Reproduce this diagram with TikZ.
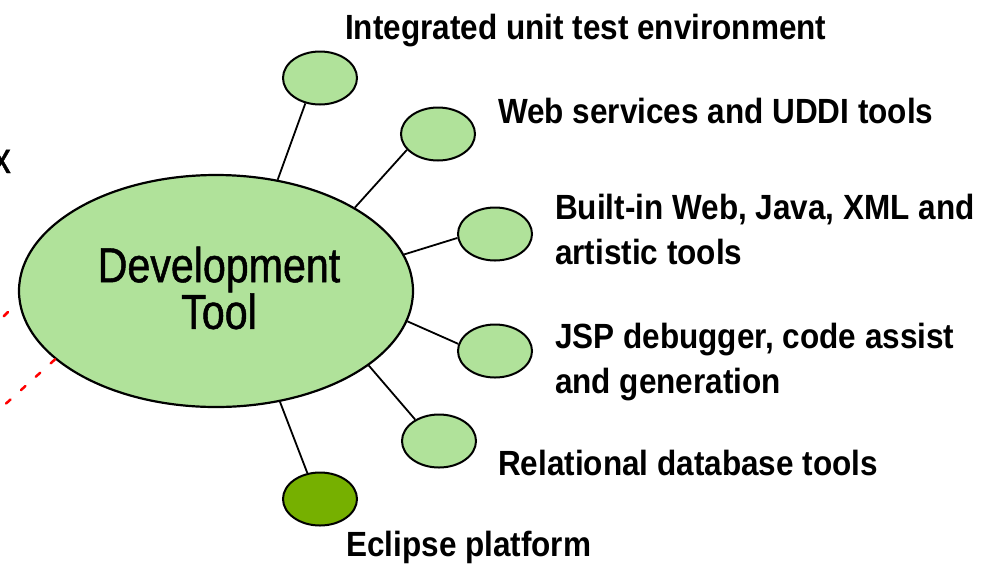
\documentclass[tikz,border=0pt]{standalone}
\usepackage{fontspec}
\setmainfont{Liberation Sans}
\newfontfamily\lblfont{Liberation Sans}[FakeStretch=0.9]
\newfontfamily\devfont{Liberation Sans}[FakeStretch=0.84, FakeBold=1]
\usetikzlibrary{shapes.geometric}
\definecolor{lgreen}{HTML}{B0E29A}
\definecolor{dgreen}{HTML}{76B000}
\tikzset{
  bigell/.style={ellipse, draw=black, line width=2.2pt, fill=lgreen,
    minimum width=394pt, minimum height=232pt, inner sep=0pt},
  smallell/.style={ellipse, draw=black, line width=2pt, fill=lgreen,
    minimum width=74pt, minimum height=53pt, inner sep=0pt},
  darkell/.style={smallell, fill=dgreen},
  spoke/.style={draw=black, line width=1.8pt},
  lbl/.style={font=\lblfont\bfseries\fontsize{35}{45}\selectfont, inner sep=0pt, align=left},
  devtext/.style={font=\devfont\fontsize{49}{45}\selectfont, inner sep=0pt, align=center},
  reddash/.style={draw=red, line width=2.5pt, dash pattern=on 6pt off 14pt, line cap=round}
}
\begin{document}
\begin{tikzpicture}[x=1pt,y=-1pt]
\useasboundingbox (0,0) rectangle (990,566);

% left partial text
\node[font=\devfont\fontsize{44}{44}\selectfont, anchor=base east, inner sep=0pt] (xlbl) at (11,173) {x};

% central ellipse
\node[bigell] (dev) at (216,291) {};
\node[devtext] (devlabel) at (219,288) {Development\\Tool};

% satellites
\node[smallell] (s1) at (320,78) {};
\node[smallell] (s2) at (438,134) {};
\node[smallell] (s3) at (495,234) {};
\node[smallell] (s4) at (495,351) {};
\node[smallell] (s5) at (439,441) {};
\node[darkell]  (s6) at (320,499) {};

% spokes
\draw[spoke] (dev.61) -- (s1.240.8);
\draw[spoke] (dev.31.2) -- (s2.207.3);
\draw[spoke] (dev.11.7) -- (s3.186);
\draw[spoke] (dev.-9.5) -- (s4.169);
\draw[spoke] (dev.-26) -- (s5.138);
\draw[spoke] (dev.-60.6) -- (s6.116.6);

% red dashed connectors
\coordinate (r1b) at (8,312);
\coordinate (r1a) at (-40,360);
\coordinate (r2a) at (-10,418);
\draw[reddash] (r1b) -- (r1a);
\draw[reddash] (dev.203) -- (r2a);

% labels
\node[lbl, anchor=base west] (t1) at (345,39) {Integrated unit test environment};
\node[lbl, anchor=base west] (t2) at (498,123) {Web services and UDDI tools};
\node[lbl, anchor=north west] (t3) at (555,194) {Built-in Web, Java, XML and\\artistic tools};
\node[lbl, anchor=north west] (t4) at (555,323) {JSP debugger, code assist\\and generation};
\node[lbl, anchor=base west] (t5) at (498,475) {Relational database tools};
\node[lbl, anchor=base west] (t6) at (346,556) {Eclipse platform};
\end{tikzpicture}
\end{document}
